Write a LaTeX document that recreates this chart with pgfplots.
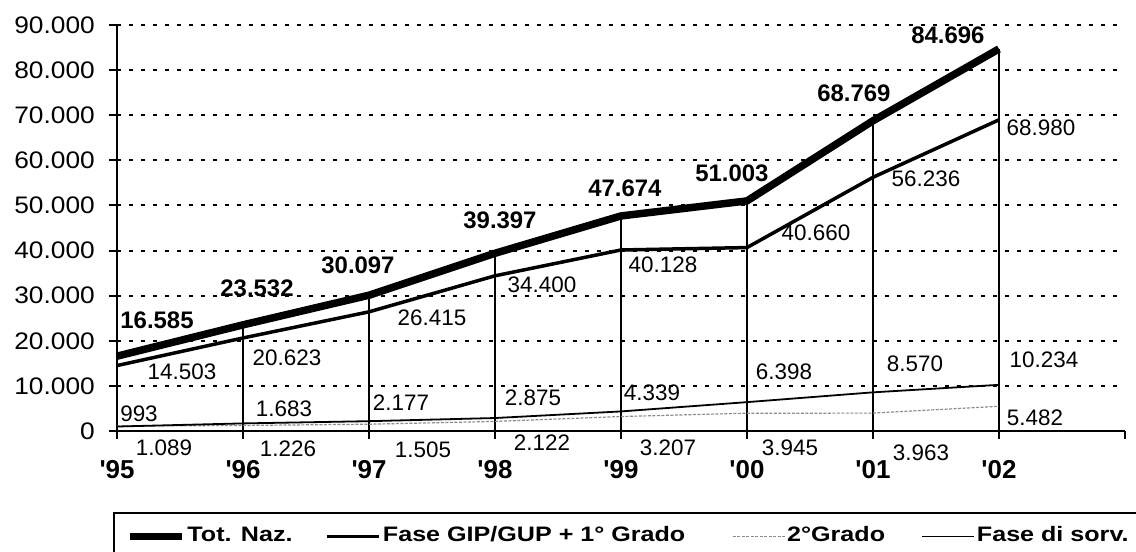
\documentclass[border=0pt]{standalone}
\usepackage{fontspec}
\setmainfont{Liberation Sans}
\newfontfamily\widefont[FakeStretch=1.1]{Liberation Sans}
\newfontfamily\legfont[FakeStretch=1.2]{Liberation Sans}
\usepackage{pgfplots}
\usepackage{pgfplotstable}
\pgfplotsset{compat=1.18}

\pgfplotstableread{
x y lab dx dy
0 16585 16.585 40 36
1 23532 23.532 14 37
2 30097 30.097 -11 30
3 39397 39.397 5 33
4 47674 47.674 4 28
5 51003 51.003 -15 28
6 68769 68.769 -19 28
7 84696 84.696 -51 14
}\tot

\pgfplotstableread{
x y lab dx dy
0 14503 14.503 65 -6
1 20623 20.623 44 -20
2 26415 26.415 63 -6
3 34400 34.400 47 -9
4 40128 40.128 42 -15
5 40660 40.660 69 15
6 56236 56.236 53 -1
7 68980 68.980 42 -8
}\gip

\pgfplotstableread{
x y lab dx dy
0 1089 1.089 47 -22
1 1226 1.226 45 -23
2 1505 1.505 54 -26
3 2122 2.122 47 -21
4 3207 3.207 47 -31
5 3945 3.945 43 -35
6 3963 3.963 48 -40
7 5482 5.482 36 -12
}\secgr

\pgfplotstableread{
x y lab dx dy
0 993 993 22 13
1 1683 1.683 41 15
2 2177 2.177 32 19
3 2875 2.875 38 20
4 4339 4.339 31 19
5 6398 6.398 37 30
6 8570 8.570 42 29
7 10234 10.234 45 25
}\sorv

\pgfplotsset{
  lab/.style={draw=none, forget plot, nodes near coords, point meta=explicit symbolic,
    visualization depends on={\thisrow{dx}\as\dx},
    visualization depends on={\thisrow{dy}\as\dy},
    every node near coord/.append style={anchor=center, inner sep=0pt, text=black,
      xshift=\dx bp, yshift=\dy bp, font=#1}},
}

\begin{document}
\begin{tikzpicture}
\useasboundingbox (0,0) rectangle (1136bp,552bp);
\begin{axis}[
  at={(117bp,121bp)}, anchor=south west,
  width=1008bp, height=406bp, scale only axis,
  xmin=0, xmax=8, ymin=0, ymax=90000,
  axis x line=bottom, axis y line=left,
  axis line style={line width=2bp, -},
  xtick={0,...,8},
  xticklabels={\textquotesingle95,\textquotesingle96,\textquotesingle97,\textquotesingle98,\textquotesingle99,\textquotesingle00,\textquotesingle01,\textquotesingle02,{}},
  ytick={0,10000,...,90000},
  scaled y ticks=false,
  yticklabel style={/pgf/number format/1000 sep={.}, /pgf/number format/assume math mode=true,
     font=\widefont\fontsize{24}{28}\selectfont, anchor=east, inner sep=0pt, xshift=-14bp},
  xticklabel style={font=\fontsize{26}{30}\selectfont\bfseries, anchor=center, inner sep=0pt, yshift=-31bp},
  ymajorgrids,
  major grid style={line width=2bp, dash pattern=on 4bp off 8bp, black},
  tick align=outside, major tick length=8bp,
  tick style={line width=2bp, black},
  clip=false,
  legend columns=4,
  legend image code/.code={\draw[#1] (0bp,0bp) -- (52bp,0bp);},
  legend style={at={(-0.004,-0.1995)}, anchor=north west, draw=black, line width=2bp,
     inner xsep=12bp, inner ysep=13bp,
     font=\legfont\fontsize{21}{25}\selectfont\bfseries,
     /tikz/every even column/.append style={column sep=0bp},
     nodes={inner xsep=2bp, inner ysep=1bp, text height=15bp, text depth=4bp}},
]
\addplot[ycomb, line width=1.8bp, black, forget plot] table[x=x,y=y]{\tot};
\addplot[line width=7.5bp, black, line join=round] table[x=x,y=y]{\tot};
\addlegendentry{\makebox[136bp][l]{Tot. Naz.}}
\addplot[line width=3.5bp, black, line join=round] table[x=x,y=y]{\gip};
\addlegendentry{\makebox[347bp][l]{Fase GIP/GUP + 1° Grado}}
\addplot[line width=1.2bp, black!45, dash pattern=on 3bp off 1.5bp] table[x=x,y=y]{\secgr};
\addlegendentry{\makebox[132bp][l]{2°Grado}}
\addplot[line width=1.8bp, black] table[x=x,y=y]{\sorv};
\addlegendentry{\makebox[158bp][l]{Fase di sorv.}}

\addplot[lab={\fontsize{24}{28}\selectfont\bfseries}] table[x=x,y=y,meta=lab]{\tot};
\addplot[lab={\fontsize{22.5}{26}\selectfont}] table[x=x,y=y,meta=lab]{\gip};
\addplot[lab={\fontsize{22.5}{26}\selectfont}] table[x=x,y=y,meta=lab]{\secgr};
\addplot[lab={\fontsize{22.5}{26}\selectfont}] table[x=x,y=y,meta=lab]{\sorv};
\end{axis}
\end{tikzpicture}
\end{document}
